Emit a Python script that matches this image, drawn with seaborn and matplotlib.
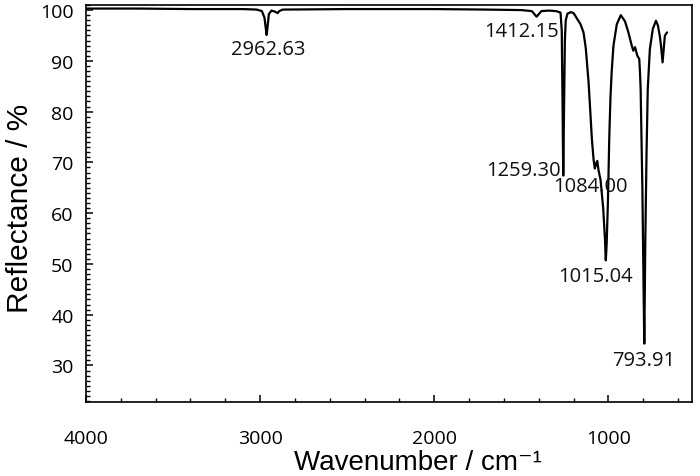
import matplotlib
matplotlib.use("Agg")
import pandas as pd
import matplotlib.pyplot as plt
from matplotlib.ticker import MultipleLocator
import seaborn as sns

# espectro (numero de onda em cm-1, refletancia em %)
wavenumber = [4000, 3700, 3400, 3100, 3020, 2990, 2975, 2968, 2962.63, 2957, 2950,
              2935, 2915, 2900, 2890, 2870, 2500, 2000, 1700, 1500, 1440, 1425,
              1412.15, 1400, 1385, 1340, 1300, 1275, 1268, 1263, 1259.30, 1255,
              1250, 1245, 1235, 1215, 1200, 1180, 1160, 1143, 1130, 1114, 1104,
              1095, 1085, 1078, 1070, 1064, 1057, 1045, 1030, 1020, 1015.04, 1010,
              1003, 995, 988, 981, 971, 952, 929, 905, 886, 866, 857, 847, 834,
              823, 819, 815, 805, 798, 793.91, 788, 781, 774, 762, 745, 727, 716,
              705, 699, 689, 682, 676, 670, 663]
reflectance = [100.3, 100.3, 100.2, 100.2, 100.1, 99.8, 98.5, 96.5, 95.1, 96.8, 99.2,
               99.9, 99.7, 99.4, 99.8, 100.1, 100.2, 100.2, 100.1, 100.0, 99.8, 99.2,
               98.7, 99.2, 99.8, 99.9, 99.8, 99.5, 96.0, 80.0, 67.4, 80.0,
               94.0, 98.0, 99.3, 99.6, 99.4, 98.3, 97.2, 95.6, 92.5, 85.8, 80.0,
               74.6, 70.5, 68.8, 69.8, 70.3, 68.5, 66.5, 61.0, 55.0, 50.7, 54.0,
               62.0, 75.0, 83.0, 88.0, 93.0, 97.2, 99.0, 97.8, 95.7, 93.0, 92.0, 92.7, 91.0,
               90.4, 88.0, 84.5, 65.0, 45.0, 34.3, 55.0, 72.0, 84.5, 92.3, 96.3, 97.9, 97.0,
               94.9, 93.3, 89.7, 92.5, 94.9, 95.3, 95.6]

peak_labels = ["2962.63", "1412.15", "1259.30", "1084.00", "1015.04", "793.91"]
label_x = [2955, 1497, 1487, 1101, 1073, 796]
label_y = [92.4, 95.9, 68.5, 65.3, 47.7, 31.0]

df = pd.DataFrame({"wn": wavenumber, "R": reflectance})

sns.set_style("ticks")
plt.rcParams["font.family"] = ["Open Sans", "DejaVu Sans"]
plt.rcParams["xtick.direction"] = "in"
plt.rcParams["ytick.direction"] = "in"
plt.rcParams["xtick.color"] = "black"
plt.rcParams["ytick.color"] = "black"
plt.rcParams["text.color"] = "black"
plt.rcParams["axes.labelcolor"] = "black"

fig = plt.figure(figsize=(7, 4.77), dpi=100)
ax = fig.add_axes([86 / 700, 74 / 477, 606 / 700, 397.5 / 477])

sns.lineplot(data=df, x="wn", y="R", color="black", linewidth=1.6,
             estimator=None, sort=False, ax=ax)

for txt, x, y in zip(peak_labels, label_x, label_y):
    ax.text(x, y, txt, ha="center", va="center", fontsize=14.5, color="#111111")

ax.set_xlim(4000, 520)
ax.set_ylim(22.8, 101.1)
ax.xaxis.set_major_locator(MultipleLocator(1000))
ax.xaxis.set_minor_locator(MultipleLocator(200))
ax.yaxis.set_minor_locator(MultipleLocator(1))
ax.set_yticks(range(30, 101, 10))

ax.tick_params(axis="both", which="major", length=5, width=1.1, labelsize=14,
               top=False, right=False)
ax.tick_params(axis="both", which="minor", length=3, width=1.0,
               top=False, right=False)
ax.tick_params(axis="x", which="major", pad=19.5)
ax.tick_params(axis="y", which="major", pad=9)
for s in ax.spines.values():
    s.set_linewidth(1.2)
    s.set_color("black")

ax.set_xlabel("Wavenumber / cm\u207b\u00b9", fontsize=20,
              family=["Liberation Sans", "DejaVu Sans"])
ax.set_ylabel("Reflectance / %", fontsize=21.5, family="Liberation Sans")
ax.xaxis.set_label_coords(0.547, -0.117)
ax.yaxis.set_label_coords(-0.085, 0.49)

fig.savefig("out.png", dpi=100)
